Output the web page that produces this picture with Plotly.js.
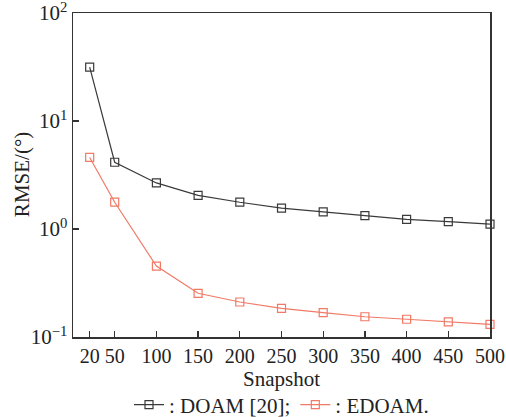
<!DOCTYPE html>
<html>
<head>
<meta charset="utf-8">
<script src="https://cdn.plot.ly/plotly-3.0.1.min.js"></script>
<style>
  html, body { margin: 0; padding: 0; background: #fff; }
  #chart { width: 506px; height: 417px; }
</style>
</head>
<body>
<div id="chart"></div>
<script>
// Snapshot counts on the x axis
const snapshots = [20, 50, 100, 150, 200, 250, 300, 350, 400, 450, 500];

// RMSE (degrees) for each method
const rmseDOAM  = [31.6, 4.15, 2.67, 2.05, 1.77, 1.56, 1.44, 1.33, 1.23, 1.17, 1.11];
const rmseEDOAM = [4.6, 1.77, 0.454, 0.254, 0.211, 0.184, 0.168, 0.154, 0.146, 0.138, 0.131];

// Series names shown in the legend
const nameDOAM  = ': DOAM [20];';
const nameEDOAM = ': EDOAM.';

// Axis titles
const xTitle = 'Snapshot';
const yTitle = 'RMSE/(°)';

// Axis tick values and labels
const xTicks = [20, 50, 100, 150, 200, 250, 300, 350, 400, 450, 500];
const yTickVals = [0.1, 1, 10, 100];
const yTickText = ['10<sup>\u22121</sup>', '10<sup>0</sup>', '10<sup>1</sup>', '10<sup>2</sup>'];

const serif = '"Liberation Serif", "Times New Roman", serif';
const axisColor = '#333';
const textColor = '#222';

const traces = [
  {
    x: snapshots, y: rmseDOAM, name: nameDOAM,
    type: 'scatter', mode: 'lines+markers', cliponaxis: false,
    line: { color: '#3a3a3a', width: 1.2 },
    marker: { symbol: 'square-open', size: 8, color: '#3a3a3a', line: { width: 1.2 } }
  },
  {
    x: snapshots, y: rmseEDOAM, name: nameEDOAM,
    type: 'scatter', mode: 'lines+markers', cliponaxis: false,
    line: { color: '#f07a66', width: 1.2 },
    marker: { symbol: 'square-open', size: 8, color: '#f07a66', line: { width: 1.2 } }
  }
];

const titleFont = { family: serif, size: 21, color: textColor };

const layout = {
  width: 506, height: 417,
  margin: { l: 73, r: 16, t: 13, b: 80, autoexpand: false },
  paper_bgcolor: '#fff', plot_bgcolor: '#fff',
  font: { family: serif, size: 20, color: textColor },
  showlegend: true,
  legend: {
    orientation: 'h', xref: 'paper', x: 0.5, xanchor: 'center',
    yref: 'container', y: 0.029, yanchor: 'middle',
    font: { family: serif, size: 21, color: textColor },
    itemwidth: 30, tracegroupgap: 0, bgcolor: 'rgba(0,0,0,0)'
  },
  xaxis: {
    range: [0, 500], tickvals: xTicks, ticktext: xTicks.map(String),
    ticks: 'inside', ticklen: 6, tickwidth: 1.3, tickcolor: axisColor,
    showline: true, linecolor: axisColor, linewidth: 1.5, mirror: true,
    showgrid: false, zeroline: false, automargin: false,
    ticklabeloverflow: 'allow',
    tickfont: { family: serif, size: 20, color: textColor }
  },
  yaxis: {
    type: 'log', range: [-1, 2], tickvals: yTickVals, ticktext: yTickText,
    ticks: 'inside', ticklen: 6, tickwidth: 1.3, tickcolor: axisColor,
    showline: true, linecolor: axisColor, linewidth: 1.5, mirror: true,
    showgrid: false, zeroline: false, automargin: false,
    ticklabeloverflow: 'allow',
    tickfont: { family: serif, size: 21, color: textColor }
  },
  // Axis titles placed as annotations for precise positioning
  annotations: [
    {
      text: xTitle, xref: 'paper', yref: 'paper', x: 0.5, y: -0.13,
      xanchor: 'center', yanchor: 'middle', showarrow: false, font: titleFont
    },
    {
      text: yTitle, xref: 'paper', yref: 'paper', x: -0.122, y: 0.5,
      xanchor: 'center', yanchor: 'middle', textangle: -90, showarrow: false, font: titleFont
    }
  ]
};

Plotly.newPlot('chart', traces, layout, { displayModeBar: false, staticPlot: true });
</script>
</body>
</html>
